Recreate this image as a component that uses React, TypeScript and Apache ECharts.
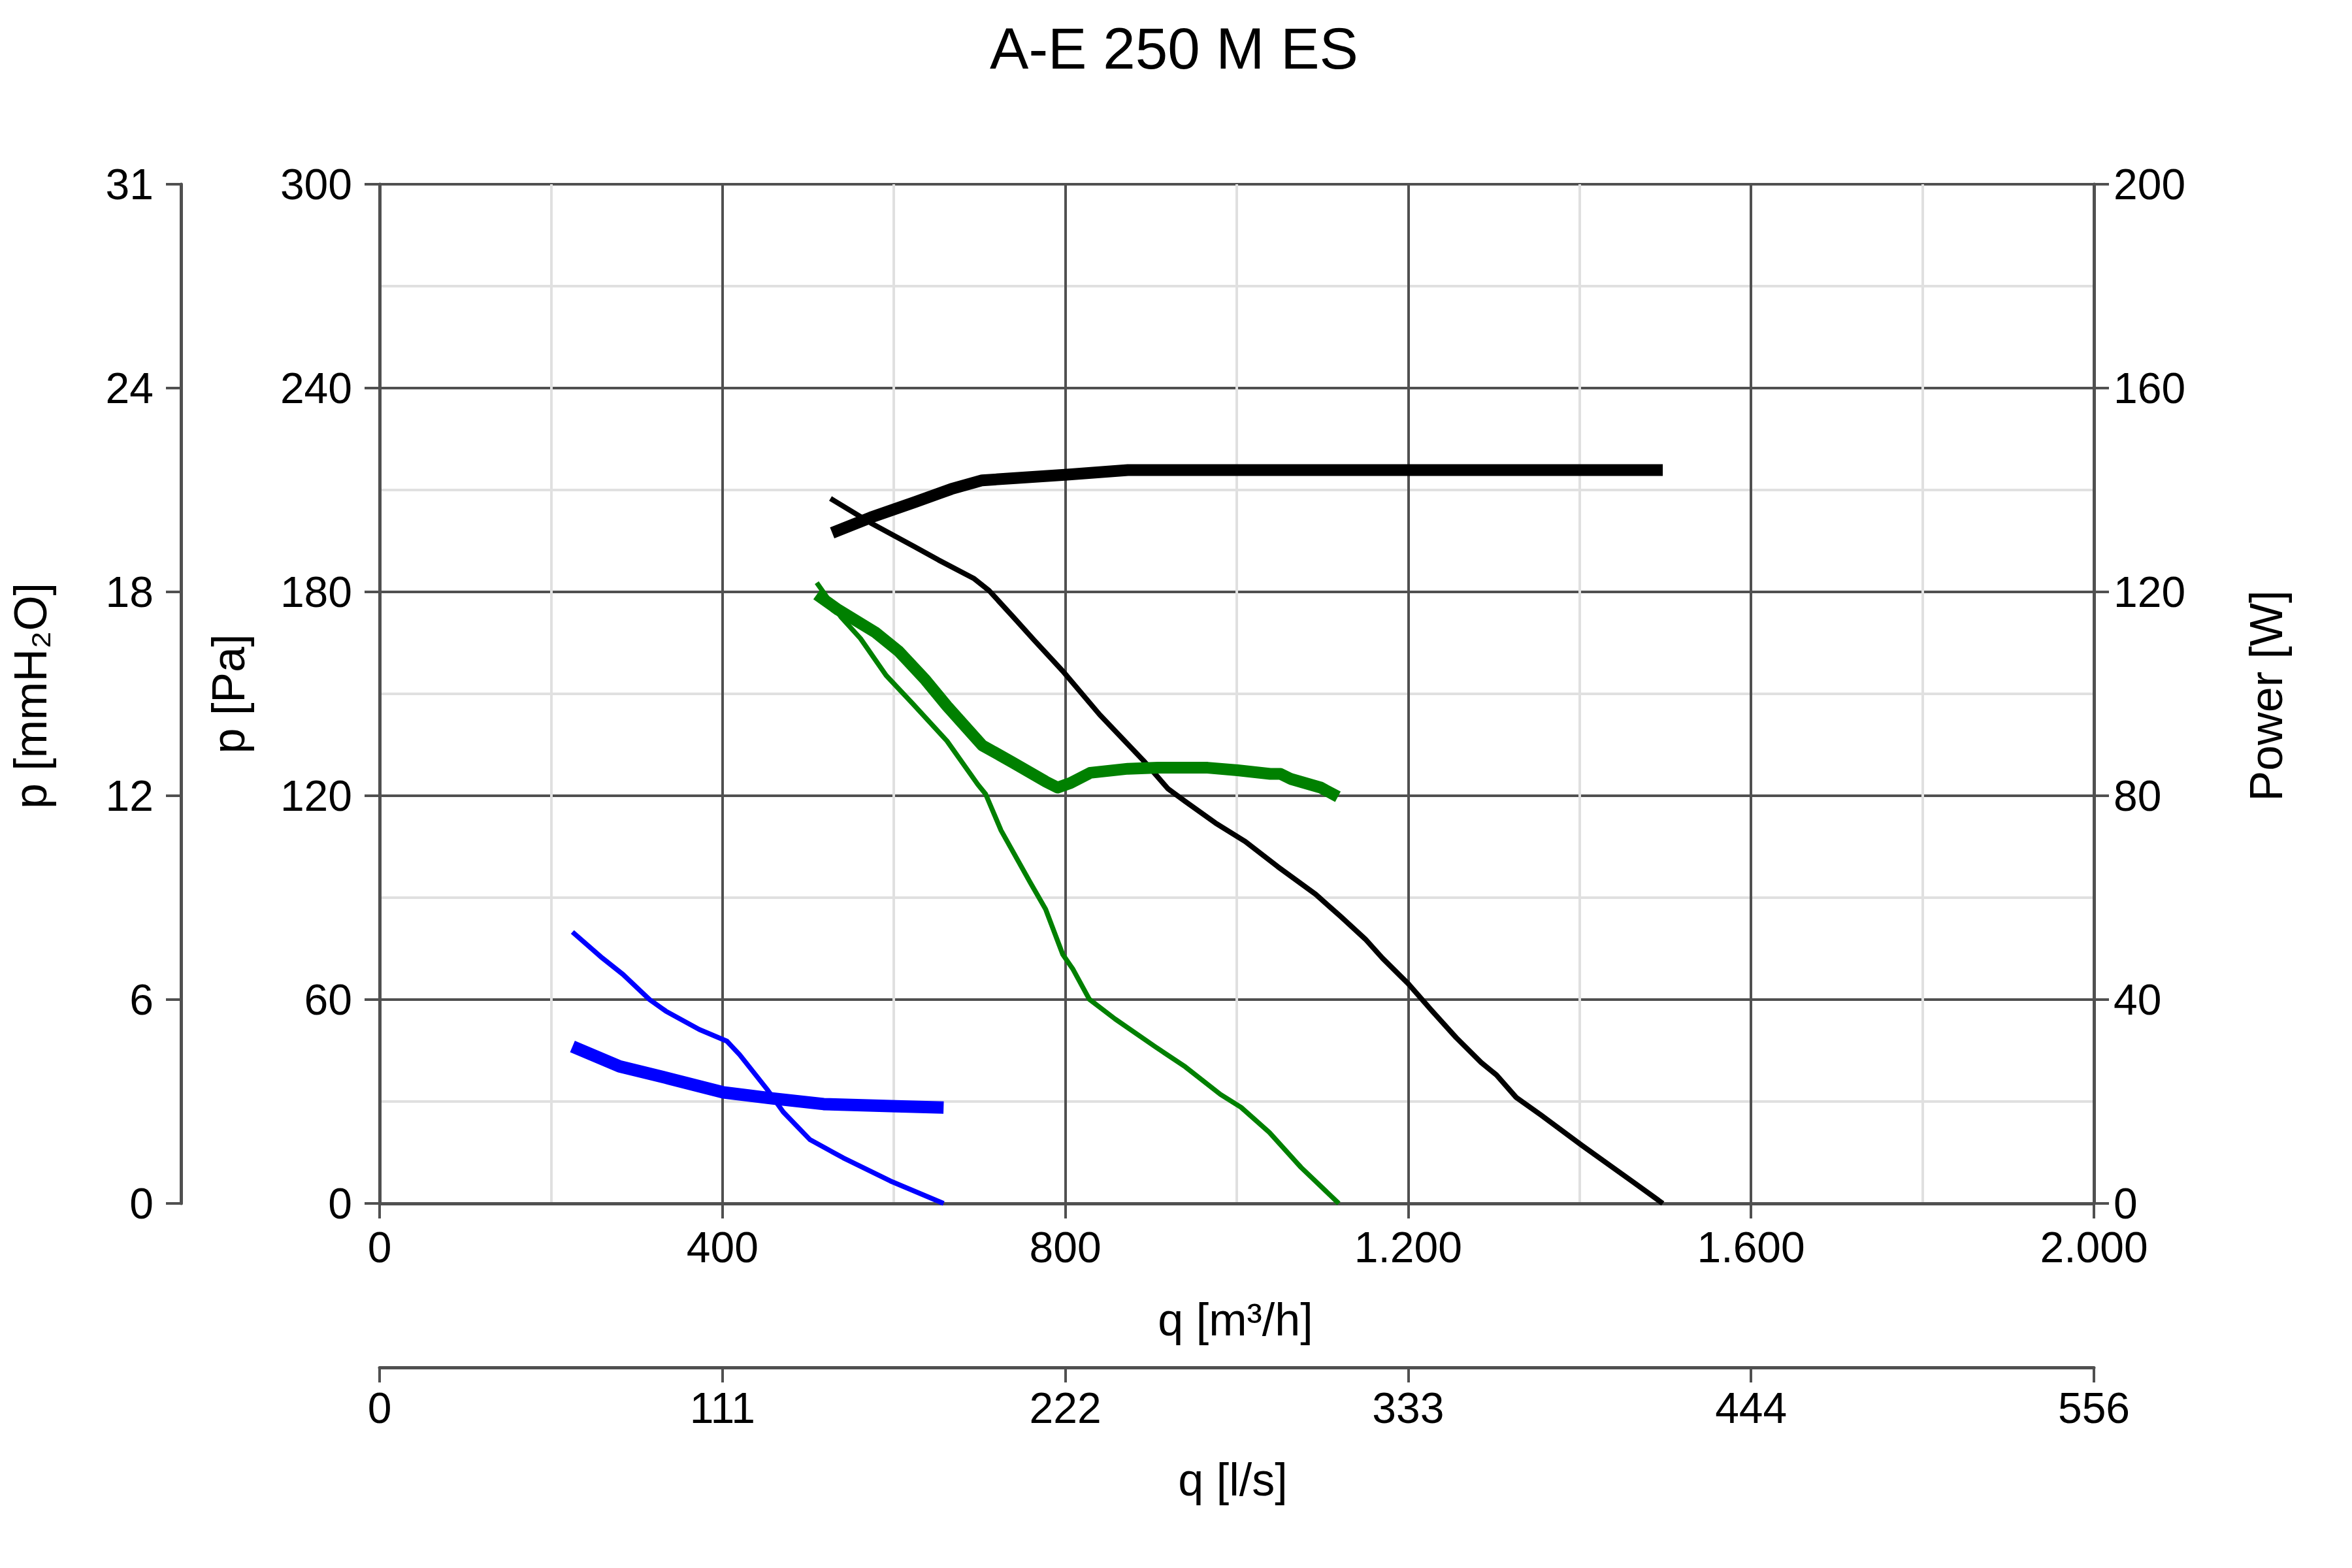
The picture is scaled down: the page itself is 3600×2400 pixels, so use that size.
import React, { useEffect, useRef } from "react";
import * as echarts from "echarts";

const TITLE = "A-E 250 M ES";

// x tick labels
const qLabels = ["0", "400", "800", "1.200", "1.600", "2.000"];
const lsLabels = ["0", "111", "222", "333", "444", "556"];
const mmLabels = ["0", "6", "12", "18", "24", "31"];

// Black: pressure (Pa) and power (W)
const qBlackP = [526, 573, 624, 652, 693, 711, 739, 764, 797, 840, 891, 920, 940, 975, 1010, 1048, 1092, 1121, 1150, 1170, 1200, 1227, 1256, 1285, 1303, 1326, 1355, 1402, 1463, 1497];
const pBlack = [207.5, 200.3, 193.3, 189.4, 184, 180.4, 172.7, 165.7, 156.7, 143.9, 130.4, 122, 118.3, 112, 106.5, 99.1, 91, 84.5, 77.8, 72.2, 64.7, 56.9, 48.8, 41.5, 37.8, 31.2, 26, 17.2, 6.2, 0];
const qBlackW = [528, 573, 624, 667, 703, 739, 802, 873, 1497];
const wBlack = [131.6, 134.6, 137.6, 140.2, 141.9, 142.3, 143.0, 143.9, 143.9];

// Green
const qGreenP = [510, 538, 561, 591, 622, 662, 698, 707, 725, 759, 777, 797, 809, 828, 858, 905, 940, 981, 1005, 1038, 1075, 1119];
const pGreen = [182.7, 172.7, 166.3, 155.4, 147.1, 136.1, 123.3, 120.5, 109.8, 94.5, 86.6, 73.3, 68.9, 60.1, 54.3, 46.1, 40.2, 32.1, 28.3, 20.9, 10.6, 0];
const qGreenW = [510, 535, 578, 606, 637, 662, 703, 739, 777, 791, 806, 829, 873, 908, 966, 1001, 1039, 1051, 1063, 1098, 1118];
const wGreen = [119.5, 116.5, 112.1, 108.3, 102.7, 97.6, 89.9, 86.5, 82.8, 81.6, 82.5, 84.5, 85.3, 85.5, 85.5, 85.0, 84.3, 84.3, 83.3, 81.6, 79.8];

// Blue
const qBlueP = [225, 260, 284, 315, 334, 373, 405, 420, 452, 471, 502, 541, 596, 658];
const pBlue = [79.9, 72.2, 67.4, 60, 56.6, 51.2, 47.8, 43.8, 33.6, 26.9, 18.8, 13.4, 6.6, 0];
const qBlueW = [225, 280, 338, 401, 459, 518, 596, 658];
const wBlue = [30.8, 26.9, 24.5, 21.8, 20.6, 19.5, 19.1, 18.8];

const FONT = "'Liberation Sans', Arial, sans-serif";
const AX = "#505050";
const TICK_FS = 66;
const NAME_FS = 70;

const pairs = (xs: number[], ys: number[]) => xs.map((x, i) => [x, ys[i]]);

export default function App() {
  const ref = useRef<HTMLDivElement>(null);
  useEffect(() => {
    if (!ref.current) return;
    const chart = echarts.init(ref.current, null, { renderer: "svg" });
    const axisLine = { show: true, onZero: false, lineStyle: { color: AX, width: 5 } };
    const axisTick = { show: true, length: 23, lineStyle: { color: AX, width: 4 } };
    const label = (extra: any) => ({ color: "#000", fontSize: TICK_FS, lineHeight: 58, fontFamily: FONT, ...extra });
    const line = (data: number[][], color: string, width: number, yAxisIndex: number) => ({
      type: "line",
      data,
      xAxisIndex: 0,
      yAxisIndex,
      showSymbol: false,
      symbol: "none",
      lineStyle: { color, width, join: "round" },
      z: 3,
    });
    chart.setOption({
      animation: false,
      backgroundColor: "#fff",
      grid: { left: 581, right: 395, top: 282, bottom: 558, containLabel: false },
      xAxis: [
        {
          type: "value", min: 0, max: 2000, interval: 400, position: "bottom",
          axisLine, axisTick,
          axisLabel: label({ margin: 38, formatter: (v: number) => qLabels[Math.round(v / 400)] }),
          splitLine: { show: true, lineStyle: { color: AX, width: 4 } },
          minorTick: { show: false, splitNumber: 2 },
          minorSplitLine: { show: true, lineStyle: { color: "#e0e0e0", width: 4 } },
        },
        {
          type: "value", min: 0, max: 2000, interval: 400, position: "bottom", offset: 251,
          axisLine, axisTick,
          axisLabel: label({ margin: 33, formatter: (v: number) => lsLabels[Math.round(v / 400)] }),
          splitLine: { show: false },
        },
      ],
      yAxis: [
        {
          type: "value", min: 0, max: 300, interval: 60, position: "left",
          axisLine, axisTick,
          axisLabel: label({ margin: 42 }),
          splitLine: { show: true, lineStyle: { color: AX, width: 4 } },
          minorTick: { show: false, splitNumber: 2 },
          minorSplitLine: { show: true, lineStyle: { color: "#e0e0e0", width: 4 } },
        },
        {
          type: "value", min: 0, max: 300, interval: 60, position: "left", offset: 304,
          axisLine, axisTick,
          axisLabel: label({ margin: 42, formatter: (v: number) => mmLabels[Math.round(v / 60)] }),
          splitLine: { show: false },
        },
        {
          type: "value", min: 0, max: 200, interval: 40, position: "right",
          axisLine, axisTick,
          axisLabel: label({ margin: 30 }),
          splitLine: { show: false },
        },
      ],
      series: [
        line(pairs(qBlackP, pBlack), "#000000", 8, 0),
        line(pairs(qGreenP, pGreen), "#008000", 7.5, 0),
        line(pairs(qBlueP, pBlue), "#0000ff", 7.5, 0),
        line(pairs(qBlackW, wBlack), "#000000", 18, 2),
        line(pairs(qGreenW, wGreen), "#008000", 18, 2),
        line(pairs(qBlueW, wBlue), "#0000ff", 19, 2),
      ],
      graphic: [
        {
          type: "text", x: 1797, y: 74,
          style: { text: TITLE, fontSize: 89, fontFamily: FONT, fill: "#000", align: "center", verticalAlign: "middle", textAlign: "center", textVerticalAlign: "middle" },
        },
        {
          type: "text", x: 47, y: 1065, rotation: Math.PI / 2,
          style: { text: "p [mmH₂O]", fontSize: NAME_FS, fontFamily: FONT, fill: "#000", align: "center", verticalAlign: "middle", textAlign: "center", textVerticalAlign: "middle" },
        },
        {
          type: "text", x: 350, y: 1062, rotation: Math.PI / 2,
          style: { text: "p [Pa]", fontSize: NAME_FS, fontFamily: FONT, fill: "#000", align: "center", verticalAlign: "middle", textAlign: "center", textVerticalAlign: "middle" },
        },
        {
          type: "text", x: 3469, y: 1065, rotation: Math.PI / 2,
          style: { text: "Power [W]", fontSize: NAME_FS, fontFamily: FONT, fill: "#000", align: "center", verticalAlign: "middle", textAlign: "center", textVerticalAlign: "middle" },
        },
        {
          type: "text", x: 1891, y: 2020,
          style: { text: "q [m³/h]", fontSize: NAME_FS, fontFamily: FONT, fill: "#000", align: "center", verticalAlign: "middle", textAlign: "center", textVerticalAlign: "middle" },
        },
        {
          type: "text", x: 1887, y: 2265,
          style: { text: "q [l/s]", fontSize: NAME_FS, fontFamily: FONT, fill: "#000", align: "center", verticalAlign: "middle", textAlign: "center", textVerticalAlign: "middle" },
        },
      ],
    });
    return () => chart.dispose();
  }, []);
  return (
    <div
      ref={ref}
      style={{ position: "absolute", left: 0, top: 0, width: "3600px", height: "2400px", background: "#fff" }}
    />
  );
}
